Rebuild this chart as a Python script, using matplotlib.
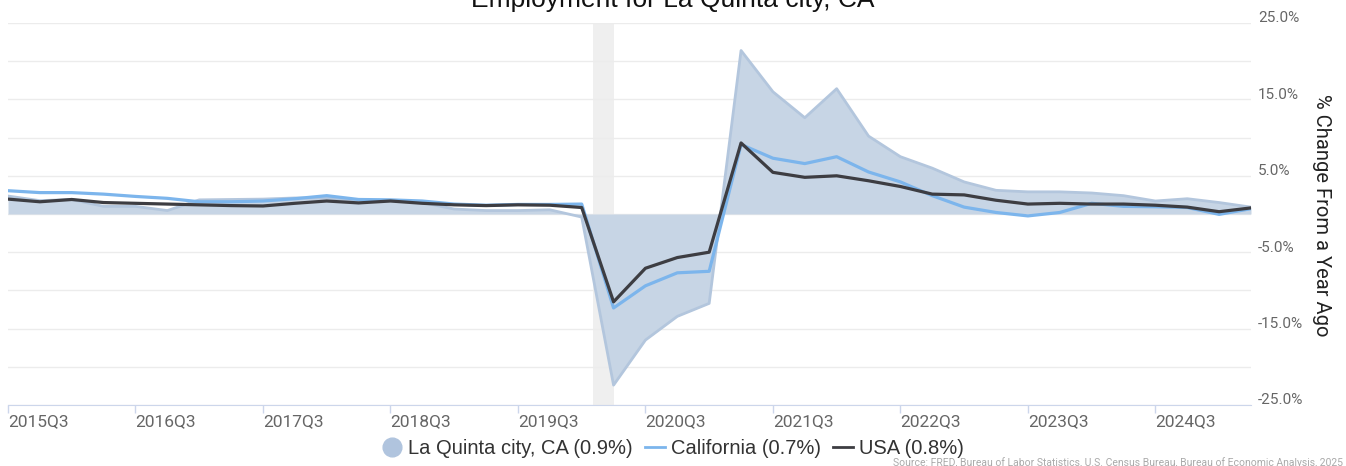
import numpy as np
import pandas as pd
import matplotlib
matplotlib.use("Agg")
import matplotlib.pyplot as plt
from matplotlib.lines import Line2D
from matplotlib.transforms import ScaledTranslation

plt.rcParams["font.family"] = ["Roboto", "DejaVu Sans"]

# quarterly YoY % change, 2015Q3 .. 2025Q2
quarters = [str(p) for p in pd.period_range("2015Q3", "2025Q2", freq="Q")]

la_quinta = [2.35, 1.75, 1.9, 1.0, 1.0, 0.45, 1.85, 1.9, 1.95, 2.1,
             2.1, 1.75, 1.75, 1.5, 0.65, 0.45, 0.45, 0.55, -0.4, -22.4,
             -16.5, -13.4, -11.7, 21.4, 16.0, 12.6, 16.4, 10.2, 7.5, 6.0,
             4.2, 3.1, 2.9, 2.9, 2.75, 2.4, 1.7, 2.0, 1.5, 0.9]
california = [3.05, 2.8, 2.8, 2.6, 2.3, 2.05, 1.6, 1.6, 1.7, 2.0,
              2.4, 1.9, 1.85, 1.7, 1.3, 1.15, 1.25, 1.25, 1.3, -12.3,
              -9.4, -7.7, -7.5, 9.1, 7.3, 6.6, 7.5, 5.5, 4.2, 2.4,
              0.9, 0.2, -0.25, 0.2, 1.4, 1.0, 0.95, 0.85, -0.05, 0.7]
usa = [1.95, 1.6, 1.9, 1.5, 1.4, 1.3, 1.2, 1.1, 1.05, 1.4,
       1.7, 1.45, 1.7, 1.4, 1.2, 1.1, 1.2, 1.15, 0.85, -11.5,
       -7.1, -5.7, -5.0, 9.3, 5.45, 4.8, 5.0, 4.35, 3.6, 2.6,
       2.5, 1.8, 1.3, 1.4, 1.3, 1.3, 1.15, 0.9, 0.3, 0.8]

legend_labels = ["La Quinta city, CA (0.9%)", "California (0.7%)", "USA (0.8%)"]
recession = (18.36, 19.0)

FILL = "#c7d5e5"
EDGE = "#b3c6dd"
CA_COLOR = "#7cb5ec"
US_COLOR = "#3d3d42"
SANS = ["Liberation Sans", "DejaVu Sans"]


def main() -> None:
    fig = plt.figure(figsize=(13.46, 4.66), dpi=100)
    ax = fig.add_axes([8 / 1346, 1 - 405 / 466, 1243 / 1346, 382 / 466])

    x = np.arange(len(quarters))

    ax.axvspan(*recession, color="#efefef", zorder=0, lw=0)
    ax.fill_between(x, 0, la_quinta, color=FILL, lw=0, zorder=2)
    ax.plot(x, la_quinta, color=EDGE, lw=2, zorder=2.5)
    ax.plot(x, california, color=CA_COLOR, lw=2.3, zorder=3)
    ax.plot(x, usa, color=US_COLOR, lw=2.3, zorder=4)

    ax.set_xlim(0, len(quarters) - 1)
    ax.set_ylim(-25, 25)

    # grid every 5%, labels every 10%
    ax.set_yticks([-25, -15, -5, 5, 15, 25])
    ax.set_yticks([-20, -10, 0, 10, 20], minor=True)
    ax.set_yticklabels([f"{v:.1f}%" for v in [-25, -15, -5, 5, 15, 25]])
    ax.yaxis.tick_right()
    ax.tick_params(axis="y", which="both", length=0, pad=5, labelsize=11, labelcolor="#666666")
    ax.grid(axis="y", which="both", color="#ececec", lw=1)
    ax.set_axisbelow(True)
    off = ScaledTranslation(0, 0.06, fig.dpi_scale_trans)
    for lab in ax.get_yticklabels():
        lab.set_transform(lab.get_transform() + off)

    xt = x[::4]
    ax.set_xticks(xt)
    ax.set_xticklabels([quarters[i] for i in xt], ha="left")
    ax.tick_params(axis="x", length=6, width=1, color="#ccd6eb", pad=0.5,
                   labelsize=12.5, labelcolor="#666666")

    for side in ["top", "left", "right"]:
        ax.spines[side].set_visible(False)
    ax.spines["bottom"].set_color("#ccd6eb")

    fig.text(1322 / 1346, 1 - 215 / 466, "% Change From a Year Ago", rotation=-90,
             ha="center", va="center", fontsize=14.5, color="#222222")
    fig.text(0.5, 1 - 7 / 466, "Employment for La Quinta city, CA", ha="center",
             va="baseline", fontsize=19, color="#111111", family=SANS)

    handles = [
        Line2D([], [], ls="none", marker="o", markersize=13.5, color="#b0c4de"),
        Line2D([], [], color=CA_COLOR, lw=2),
        Line2D([], [], color=US_COLOR, lw=2),
    ]
    fig.legend(handles, legend_labels, loc="center", bbox_to_anchor=(0.5, 1 - 449 / 466),
               ncol=3, frameon=False, handlelength=1.0, handletextpad=0.3,
               columnspacing=0.6, labelcolor="#333333",
               prop={"family": SANS, "size": 14.5})

    fig.text(893 / 1346, 1 - 463 / 466, "Source: FRED, Bureau of Labor Statistics, "
             "U.S. Census Bureau, Bureau of Economic Analysis, 2025",
             ha="left", va="center", fontsize=7.5, color="#aaaaaa")

    fig.savefig("out.png", dpi=100)
    plt.close(fig)


if __name__ == "__main__":
    main()
